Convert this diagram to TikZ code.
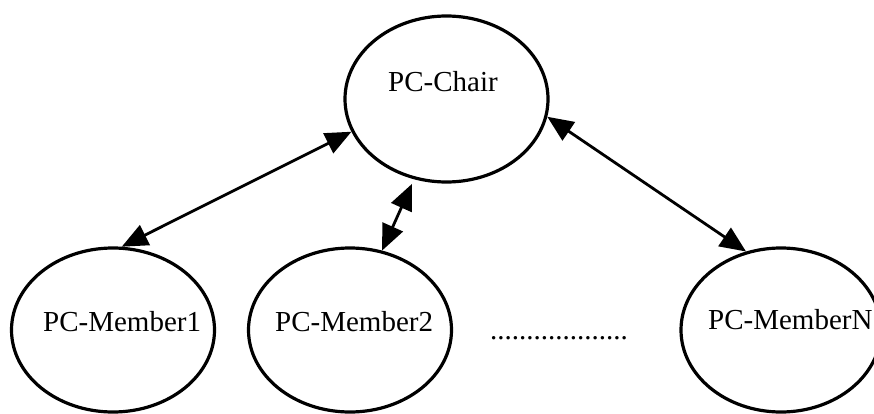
\documentclass[tikz,border=0pt]{standalone}
\usepackage{fontspec}
\setmainfont{Liberation Serif}
\usetikzlibrary{shapes.geometric,arrows.meta}

\tikzset{
  role/.style={ellipse, draw=black, line width=3.2pt, inner sep=0pt,
               minimum width=203pt, minimum height=166pt},
  rolename/.style={anchor=base west, inner sep=0pt, text=black,
                   font=\fontsize{29}{34}\selectfont},
  link/.style={line width=2.8pt,
               {Triangle[length=26pt,width=22pt]}-{Triangle[length=26pt,width=22pt]}}
}

\begin{document}
\begin{tikzpicture}[x=1pt, y=-1pt]
  \useasboundingbox (0,0) rectangle (874,414);

  % the chair and the committee members
  \node[role] (chair) at (446.5,99) {};
  \node[role, minimum height=164pt] (m1) at (113,330) {};
  \node[role, minimum height=164pt] (m2) at (350,330) {};
  \node[role, minimum width=200pt, minimum height=164pt] (mn) at (781,330) {};

  % labels
  \node[rolename] (chairlbl) at (388,92) {PC-Chair};
  \node[rolename] (m1lbl) at (43,331) {PC-Member1};
  \node[rolename] (m2lbl) at (275,331) {PC-Member2};
  \node[rolename] (mnlbl) at (708,329) {PC-MemberN};
  \node[rolename] (gap) at (490,339) {...................};

  % two-way communication lines
  \draw[link] (chair.199.8) -- (m1.84);
  \draw[link, shorten <=5pt] (chair.248.9) -- (m2.68.7);
  \draw[link] (chair.350.5) -- (mn.114);
\end{tikzpicture}
\end{document}
